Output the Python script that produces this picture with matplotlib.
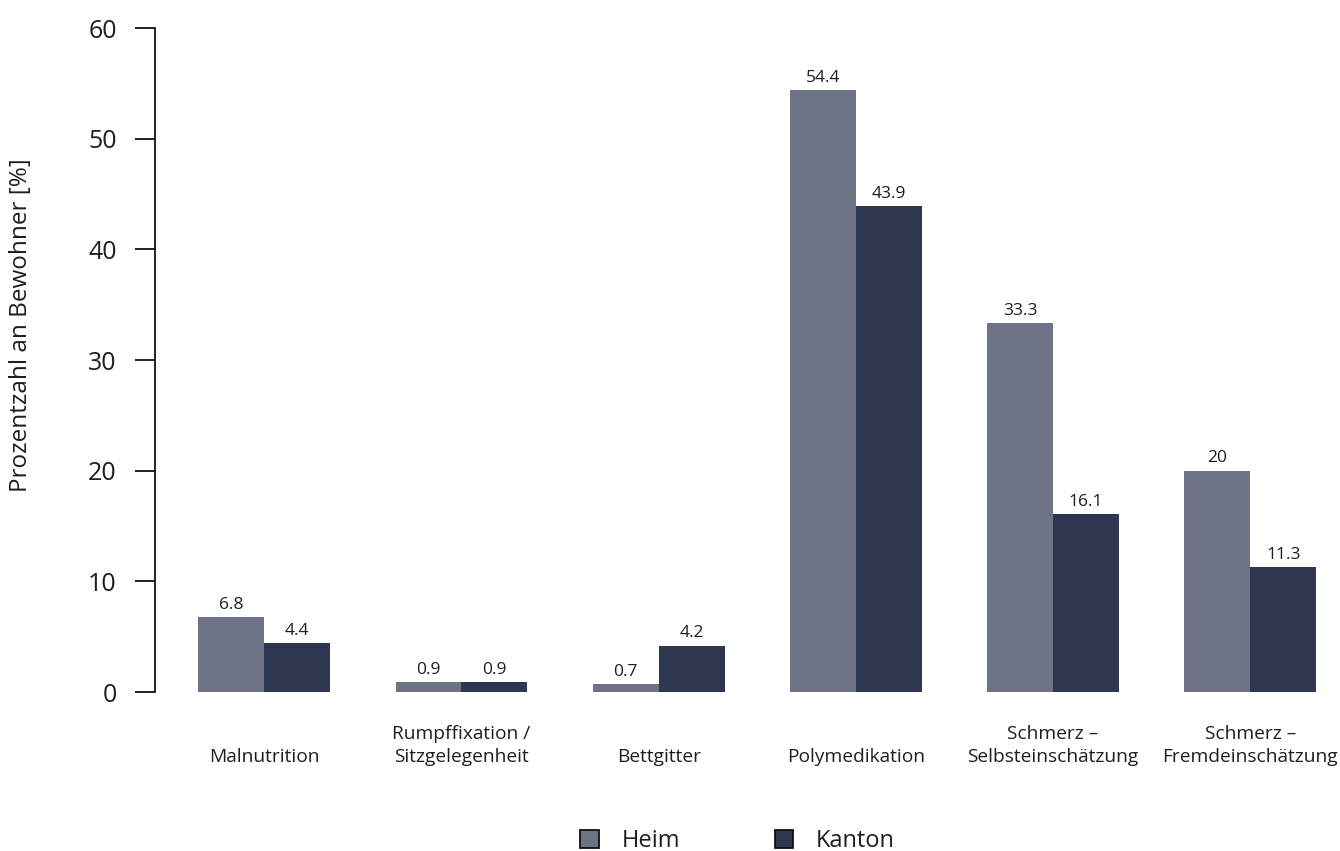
import matplotlib
matplotlib.use("Agg")
import matplotlib.pyplot as plt
from matplotlib.patches import Patch
import numpy as np

categories = ["Malnutrition", "Rumpffixation /\nSitzgelegenheit", "Bettgitter",
              "Polymedikation", "Schmerz –\nSelbsteinschätzung", "Schmerz –\nFremdeinschätzung"]
heim = [6.8, 0.9, 0.7, 54.4, 33.3, 20]
kanton = [4.4, 0.9, 4.2, 43.9, 16.1, 11.3]
heim_labels = ["6.8", "0.9", "0.7", "54.4", "33.3", "20"]
kanton_labels = ["4.4", "0.9", "4.2", "43.9", "16.1", "11.3"]
yticks = [0, 10, 20, 30, 40, 50, 60]

c_heim = "#6d7385"
c_kanton = "#2e374f"
txt = "#1e1e1e"

plt.rcParams['font.family'] = ['Open Sans', 'DejaVu Sans']

fig = plt.figure(figsize=(13.4, 8.51), dpi=100)
ax = fig.add_axes([155/1340, (851-692)/851, (1328-155)/1340, (692-28)/851])

x = np.arange(len(categories))
w = 0.334
b1 = ax.bar(x - w/2, heim, w, color=c_heim, label="Heim")
b2 = ax.bar(x + w/2, kanton, w, color=c_kanton, label="Kanton")
for bars, labs in ((b1, heim_labels), (b2, kanton_labels)):
    ax.bar_label(bars, labels=labs, padding=3, fontsize=12.5, color=txt)

ax.set_ylim(0, 60)
ax.set_xlim(-0.554, 5.394)
ax.set_yticks(yticks)
ax.set_yticklabels([str(t) for t in yticks], fontsize=18, color=txt)
ax.tick_params(axis='y', length=14.5, width=1.3, pad=13, color="#111111")
ax.set_xticks(x)
ax.set_xticklabels(categories, fontsize=13.8, va='bottom', linespacing=1.3, color=txt)
ax.tick_params(axis='x', length=0, pad=53)

for s in ("top", "right", "bottom"):
    ax.spines[s].set_visible(False)
ax.spines["left"].set_linewidth(1.3)
ax.spines["left"].set_color("#111111")

ax.set_ylabel("Prozentzahl an Bewohner [%]", fontsize=17.5, color=txt)
ax.yaxis.set_label_coords(-0.104, 0.553)

handles = [Patch(facecolor=c_heim, edgecolor="#111111", linewidth=1.3, label="Heim"),
           Patch(facecolor=c_kanton, edgecolor="#111111", linewidth=1.3, label="Kanton")]
fig.legend(handles=handles, loc="center", bbox_to_anchor=(0.5504, 1 - 841/851), ncol=2,
           frameon=False, fontsize=17, handlelength=0.8, handleheight=0.8,
           handletextpad=0.95, columnspacing=4.0, labelcolor=txt)

fig.savefig("out.png", dpi=100)
